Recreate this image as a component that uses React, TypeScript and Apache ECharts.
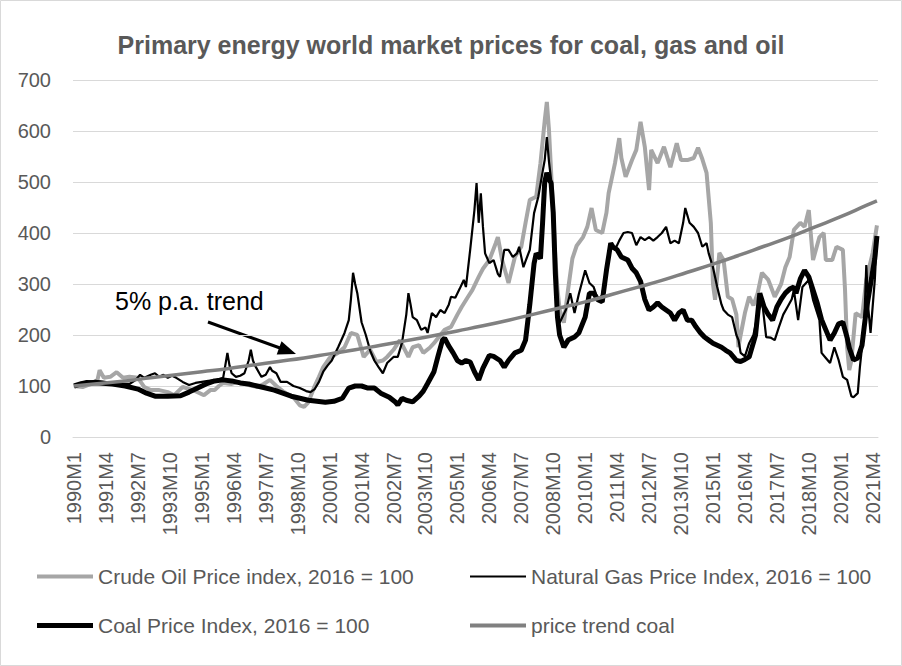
import React, { useEffect, useRef } from "react";
import * as echarts from "echarts";

const FONT = "Liberation Sans, Arial, sans-serif";

// Monthly categories 1990M1 .. 2021M6 (tick labels)
const years = [1990, 1991, 1992, 1993, 1994, 1995, 1996, 1997, 1998, 1999, 2000, 2001, 2002, 2003, 2004, 2005, 2006, 2007, 2008, 2009, 2010, 2011, 2012, 2013, 2014, 2015, 2016, 2017, 2018, 2019, 2020, 2021];
const lastMonth2021 = 6;
const months: string[] = [];
years.forEach((y) => {
  const n = y === 2021 ? lastMonth2021 : 12;
  for (let m = 1; m <= n; m++) months.push(`${y}M${m}`);
});

// [month index, value]
const crudeOil: [number, number][] = [
  [0, 100], [4, 98], [8, 104], [11, 112], [12, 131], [14, 116], [17, 118], [20, 127], [23, 116], [26, 118], [30, 116], [33, 98], [36, 92], [40, 92], [44, 88], [47, 82], [51, 98], [56, 92], [61, 82], [64, 92], [66, 92], [68, 100], [70, 106], [74, 104], [77, 108], [82, 102], [86, 98], [89, 104], [92, 112], [95, 100], [98, 90], [101, 82], [103, 78], [106, 62], [108, 59], [110, 68], [113, 100], [115, 118], [117, 137], [120, 155], [124, 165], [127, 176], [130, 204], [133, 200], [136, 157], [139, 171], [142, 147], [145, 150], [147, 157], [150, 171], [153, 190], [157, 157], [159, 176], [162, 180], [164, 165], [167, 175], [169, 184], [172, 200], [174, 210], [177, 216], [180, 240], [182, 255], [185, 275], [187, 288], [190, 314], [192, 330], [195, 347], [198, 380], [199, 392], [201, 347], [204, 302], [207, 353], [210, 373], [212, 420], [214, 465], [217, 471], [219, 537], [221, 620], [222, 657], [223, 602], [224, 520], [225, 439], [226, 350], [227, 290], [228, 250], [230, 224], [232, 290], [234, 350], [236, 375], [239, 392], [241, 412], [243, 449], [245, 406], [248, 400], [250, 440], [251, 478], [254, 537], [256, 586], [257, 547], [259, 510], [262, 543], [264, 563], [266, 618], [268, 569], [270, 484], [271, 563], [274, 537], [277, 569], [280, 529], [283, 576], [285, 543], [288, 543], [291, 547], [293, 567], [295, 545], [297, 518], [299, 420], [300, 300], [301, 269], [303, 361], [305, 347], [307, 275], [309, 270], [311, 240], [312, 176], [313, 200], [315, 243], [317, 275], [319, 258], [321, 282], [323, 322], [326, 308], [329, 275], [332, 300], [334, 333], [336, 353], [338, 406], [341, 420], [343, 412], [345, 445], [347, 347], [350, 392], [352, 400], [353, 347], [356, 347], [358, 373], [361, 367], [362, 290], [363, 176], [364, 131], [365, 150], [367, 243], [370, 235], [372, 308], [375, 361], [377, 415],
];

const naturalGas: [number, number][] = [
  [0, 100], [3, 106], [6, 108], [10, 110], [14, 108], [18, 106], [22, 104], [26, 104], [29, 112], [31, 122], [33, 116], [36, 122], [38, 125], [40, 118], [42, 122], [44, 116], [46, 120], [48, 116], [51, 108], [54, 102], [57, 106], [60, 108], [63, 110], [67, 112], [70, 116], [71, 140], [72, 165], [73, 140], [74, 125], [76, 118], [78, 120], [80, 125], [82, 150], [83, 171], [84, 150], [85, 140], [87, 125], [88, 118], [90, 122], [92, 137], [93, 130], [95, 125], [97, 108], [100, 108], [103, 100], [106, 96], [109, 90], [111, 88], [113, 94], [115, 108], [117, 128], [119, 140], [121, 150], [124, 176], [127, 204], [129, 229], [130, 270], [131, 322], [132, 300], [133, 282], [135, 225], [137, 200], [139, 170], [141, 150], [143, 137], [145, 125], [147, 145], [150, 157], [152, 157], [154, 185], [156, 240], [157, 282], [158, 260], [159, 235], [161, 229], [163, 210], [165, 215], [166, 204], [168, 243], [170, 235], [172, 249], [174, 243], [176, 260], [177, 275], [179, 273], [181, 290], [183, 308], [184, 294], [186, 367], [188, 445], [189, 498], [190, 420], [191, 478], [192, 412], [193, 360], [195, 341], [197, 347], [199, 320], [200, 314], [202, 367], [204, 367], [206, 353], [208, 360], [209, 373], [211, 333], [212, 345], [214, 367], [216, 439], [218, 471], [220, 520], [221, 543], [222, 588], [223, 540], [224, 504], [225, 439], [226, 330], [227, 235], [228, 224], [231, 250], [233, 282], [235, 243], [237, 280], [240, 327], [242, 302], [244, 294], [246, 269], [248, 278], [250, 333], [252, 373], [254, 367], [256, 385], [258, 400], [260, 402], [262, 400], [264, 376], [266, 392], [268, 386], [270, 392], [272, 385], [274, 392], [276, 400], [278, 412], [280, 380], [282, 385], [284, 380], [286, 420], [287, 449], [289, 420], [291, 412], [293, 400], [295, 373], [297, 380], [298, 360], [300, 333], [302, 294], [304, 260], [305, 249], [307, 240], [309, 235], [311, 200], [312, 190], [313, 165], [315, 158], [317, 184], [319, 200], [321, 240], [323, 269], [325, 196], [327, 195], [329, 190], [331, 216], [333, 240], [335, 255], [337, 270], [338, 288], [340, 229], [342, 294], [345, 308], [347, 269], [350, 229], [351, 165], [353, 155], [355, 145], [357, 176], [359, 151], [361, 118], [363, 112], [365, 80], [366, 78], [368, 86], [369, 137], [371, 216], [372, 337], [373, 250], [374, 204], [376, 308], [377, 392],
];

const coal: [number, number][] = [
  [0, 100], [3, 104], [6, 107], [12, 106], [18, 104], [24, 100], [30, 94], [34, 86], [38, 80], [44, 80], [50, 81], [54, 88], [58, 96], [62, 104], [66, 110], [70, 112], [74, 110], [78, 106], [82, 104], [86, 100], [90, 96], [94, 92], [98, 86], [102, 80], [106, 76], [110, 72], [114, 70], [118, 68], [122, 70], [126, 76], [129, 96], [132, 100], [135, 100], [138, 96], [141, 96], [144, 86], [148, 78], [151, 68], [152, 63], [154, 76], [156, 72], [159, 69], [162, 80], [164, 90], [166, 105], [169, 128], [171, 160], [173, 190], [174, 194], [176, 178], [178, 165], [180, 150], [182, 145], [184, 150], [186, 147], [188, 128], [190, 112], [192, 135], [195, 160], [197, 158], [200, 150], [202, 137], [204, 150], [207, 165], [210, 170], [212, 190], [214, 260], [216, 340], [217, 360], [219, 350], [220, 420], [221, 500], [222, 518], [223, 505], [224, 498], [225, 440], [226, 320], [227, 235], [228, 200], [230, 176], [232, 190], [235, 196], [237, 204], [240, 235], [242, 282], [244, 282], [246, 269], [248, 265], [250, 327], [252, 380], [253, 373], [255, 367], [257, 353], [260, 347], [262, 331], [264, 322], [266, 305], [268, 270], [270, 249], [272, 255], [274, 263], [276, 255], [278, 249], [280, 243], [282, 229], [284, 243], [286, 249], [288, 229], [290, 229], [292, 216], [294, 205], [296, 196], [298, 190], [300, 184], [302, 180], [304, 176], [306, 170], [308, 165], [310, 155], [311, 150], [313, 148], [315, 152], [317, 157], [319, 185], [320, 200], [322, 282], [324, 255], [326, 240], [328, 229], [330, 255], [332, 270], [334, 282], [336, 290], [338, 294], [339, 282], [341, 310], [343, 327], [345, 314], [347, 288], [349, 262], [351, 230], [353, 210], [355, 190], [357, 204], [359, 222], [361, 225], [363, 195], [364, 175], [366, 151], [368, 155], [370, 180], [371, 215], [372, 249], [374, 300], [376, 350], [377, 394],
];

const priceTrend: [number, number][] = [
  [0, 100], [12, 105], [24, 110], [36, 116], [48, 122], [60, 128], [72, 134], [84, 141], [96, 148], [108, 155], [120, 163], [132, 171], [144, 180], [156, 189], [168, 198], [180, 208], [192, 218], [204, 229], [216, 241], [228, 253], [240, 265], [252, 279], [264, 293], [276, 307], [288, 323], [300, 339], [312, 356], [324, 374], [336, 392], [348, 412], [360, 432], [372, 454], [377, 463],
];

const seriesNames = [
  "Crude Oil Price index, 2016 = 100",
  "Natural Gas Price Index, 2016 = 100",
  "Coal Price Index, 2016 = 100",
  "price trend coal",
];

const TEXT = "#595959";
const GRID = "#d9d9d9";

export default function App() {
  const ref = useRef<HTMLDivElement>(null);
  useEffect(() => {
    if (!ref.current) return;
    const chart = echarts.init(ref.current, undefined, { renderer: "svg" });
    const legendText = { fontSize: 21, color: TEXT, fontFamily: FONT };
    const mkLegend = (name: string, left: number, top: number, h: number) => ({
      data: [name],
      left,
      top,
      padding: 0,
      icon: "rect",
      itemWidth: 56,
      itemHeight: h,
      textStyle: legendText,
      selectedMode: false,
    });
    chart.setOption({
      animation: false,
      backgroundColor: "#ffffff",
      textStyle: { fontFamily: FONT },
      title: {
        text: "Primary energy world market prices for coal, gas and oil",
        left: "center",
        top: 27,
        textStyle: { fontSize: 25, fontWeight: "bold", color: TEXT, fontFamily: FONT },
      },
      grid: { left: 73, right: 24, top: 80, bottom: 229, containLabel: false },
      legend: [
        mkLegend(seriesNames[0], 37, 566, 4),
        mkLegend(seriesNames[1], 470, 566, 2),
        mkLegend(seriesNames[2], 37, 615, 5),
        mkLegend(seriesNames[3], 470, 615, 4),
      ],
      xAxis: {
        type: "category",
        data: months,
        boundaryGap: true,
        axisLine: { lineStyle: { color: GRID, width: 1 } },
        axisTick: { show: false },
        splitLine: { show: false },
        axisLabel: {
          interval: 14,
          rotate: 90,
          fontSize: 20,
          color: TEXT,
          margin: 15,
          fontFamily: FONT,
        },
      },
      yAxis: {
        type: "value",
        min: 0,
        max: 700,
        interval: 100,
        axisLine: { show: false },
        axisTick: { show: false },
        splitLine: { lineStyle: { color: GRID, width: 1 } },
        axisLabel: { fontSize: 20, color: TEXT, margin: 22, fontFamily: FONT },
      },
      series: [
        {
          name: seriesNames[0],
          type: "line",
          data: crudeOil,
          showSymbol: false,
          symbol: "none",
          lineStyle: { color: "#a6a6a6", width: 4 },
          itemStyle: { color: "#a6a6a6" },
        },
        {
          name: seriesNames[1],
          type: "line",
          data: naturalGas,
          showSymbol: false,
          symbol: "none",
          lineStyle: { color: "#000000", width: 2.2 },
          itemStyle: { color: "#000000" },
        },
        {
          name: seriesNames[2],
          type: "line",
          data: coal,
          showSymbol: false,
          symbol: "none",
          lineStyle: { color: "#000000", width: 5 },
          itemStyle: { color: "#000000" },
        },
        {
          name: seriesNames[3],
          type: "line",
          data: priceTrend,
          smooth: true,
          showSymbol: false,
          symbol: "none",
          lineStyle: { color: "#808080", width: 3.5 },
          itemStyle: { color: "#808080" },
        },
      ],
      graphic: [
        {
          type: "rect",
          shape: { x: 0.5, y: 0.5, width: 901, height: 665 },
          style: { fill: "none", stroke: GRID, lineWidth: 1 },
          silent: true,
        },
        {
          type: "text",
          x: 115,
          y: 301,
          style: {
            text: "5% p.a. trend",
            font: `25px ${FONT}`,
            fill: "#000000",
            verticalAlign: "middle",
          },
        },
        {
          type: "line",
          shape: { x1: 208, y1: 322, x2: 280, y2: 348 },
          style: { stroke: "#000000", lineWidth: 3 },
        },
        {
          type: "polygon",
          shape: { points: [[296, 354], [276.7, 354.4], [281.5, 341.2]] },
          style: { fill: "#000000" },
        },
      ],
    });
    return () => chart.dispose();
  }, []);
  return (
    <div
      ref={ref}
      style={{ position: "fixed", left: 0, top: 0, width: 902, height: 666, background: "#fff" }}
    />
  );
}
